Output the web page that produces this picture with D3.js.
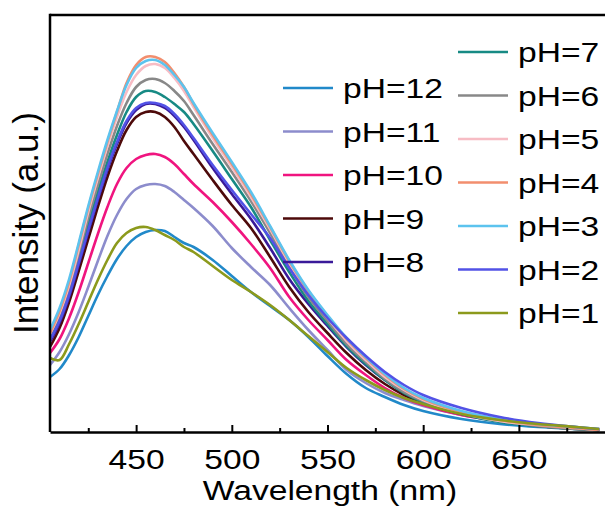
<!DOCTYPE html>
<html>
<head>
<meta charset="utf-8">
<script src="https://cdn.jsdelivr.net/npm/d3@7"></script>
<style>
  body { margin: 0; background: #fff; }
  svg { display: block; }
  text { font-family: "Liberation Sans", Arial, sans-serif; fill: #000; }
</style>
</head>
<body>
<svg width="605" height="509"></svg>
<script>
// emission spectra, wavelength in nm, intensity in a.u.
const wavelength = [405, 410, 415, 420, 425, 430, 435, 440, 445, 450, 455, 460, 465, 470, 475, 480, 490, 500, 510, 520, 530, 540, 550, 560, 570, 580, 590, 600, 620, 640, 660, 680, 692];

const ph12 = [55, 63, 77, 95, 116, 137, 156, 173, 186, 195, 200, 202, 201, 195, 189, 185, 172, 156, 140, 126, 112, 95, 76, 58, 44, 35, 27, 21, 13, 8, 5, 3, 2];
const ph11 = [67, 80, 98, 120, 145, 171, 196, 217, 233, 243, 247, 248, 246, 240, 232, 224, 206, 184, 165, 147, 124, 102, 82, 62, 49, 39, 32, 26, 17, 11, 7, 4, 2];
const ph10 = [79, 93, 114, 140, 169, 198, 225, 248, 264, 273, 277, 278, 275, 268, 258, 248, 230, 210, 188, 164, 135, 112, 92, 72, 57, 44, 34, 27, 17, 11, 7, 4, 2];
const ph9  = [85, 104, 130, 161, 193, 225, 255, 281, 302, 315, 320, 320, 315, 305, 291, 278, 252, 227, 204, 175, 145, 120, 99, 79, 62, 48, 37, 29, 18, 11, 6, 3, 2];
const ph8  = [90, 109, 135, 167, 200, 232, 262, 288, 309, 322, 328, 328, 324, 316, 305, 292, 264, 238, 213, 184, 153, 128, 106, 85, 67, 52, 40, 31, 20, 12, 7, 4, 2];
const ph7  = [96, 115, 141, 174, 208, 240, 270, 297, 320, 335, 341, 340, 335, 328, 320, 308, 281, 253, 225, 192, 160, 131, 108, 86, 68, 52, 39, 30, 18, 10, 6, 3, 2];
const ph6  = [97, 117, 144, 178, 214, 247, 278, 306, 329, 345, 352, 353, 349, 341, 331, 317, 288, 260, 231, 199, 165, 135, 111, 88, 70, 53, 40, 31, 19, 11, 6, 3, 2];
const ph5  = [98, 119, 147, 182, 220, 254, 286, 315, 340, 357, 366, 368, 364, 354, 341, 325, 294, 265, 235, 203, 169, 139, 114, 91, 72, 55, 42, 32, 19, 11, 7, 4, 2];
const ph4  = [99, 121, 150, 187, 224, 258, 290, 320, 349, 367, 375, 375, 370, 359, 345, 328, 297, 268, 238, 205, 171, 141, 116, 93, 74, 57, 43, 33, 20, 12, 7, 4, 2];
const ph3  = [102, 124, 153, 189, 226, 260, 292, 321, 347, 364, 371, 372, 367, 357, 345, 329, 299, 270, 240, 206, 172, 142, 117, 94, 75, 58, 44, 34, 21, 13, 8, 5, 3];
const ph2  = [92, 111, 137, 169, 202, 234, 264, 290, 311, 324, 329, 329, 326, 318, 307, 294, 267, 242, 218, 194, 164, 137, 114, 94, 76, 60, 47, 37, 24, 15, 9, 5, 3];
const ph1  = [74, 72, 88, 108, 130, 152, 172, 189, 199, 204, 205, 202, 197, 192, 185, 180, 166, 152, 140, 127, 112, 96, 80, 64, 52, 42, 34, 28, 18, 12, 8, 5, 3];

const labels = ["pH=12", "pH=11", "pH=10", "pH=9", "pH=8", "pH=7", "pH=6", "pH=5", "pH=4", "pH=3", "pH=2", "pH=1"];
const values = [ph12, ph11, ph10, ph9, ph8, ph7, ph6, ph5, ph4, ph3, ph2, ph1];
const majorTicks = [450, 500, 550, 600, 650];
const minorTicks = [425, 475, 525, 575, 625, 675];

const colors = ["#2189c9", "#8c8ccc", "#f0147f", "#4d0a0a", "#3a1a99", "#178a84",
                "#888888", "#f7bcc4", "#f28e6e", "#5cc3ee", "#5252e6", "#8c9a1c"];

const svg = d3.select("svg");
const mLeft = 50, mRight = 605, mTop = 15, mBottom = 432;

const x = d3.scaleLinear().domain([405, 695]).range([mLeft, mRight]);
const y = d3.scaleLinear().domain([0, 417]).range([mBottom, mTop]);

const series = labels.map((lab, i) => ({
  label: lab,
  color: colors[i],
  points: wavelength.map((w, j) => [w, values[i][j]])
}));

const line = d3.line()
  .x(d => x(d[0]))
  .y(d => y(d[1]))
  .curve(d3.curveCatmullRom.alpha(0.5));

// spectra
svg.append("g")
  .selectAll("path")
  .data(series)
  .enter()
  .append("path")
  .attr("d", d => line(d.points))
  .attr("fill", "none")
  .attr("stroke", d => d.color)
  .attr("stroke-width", 2.6)
  .attr("stroke-linejoin", "round");

// frame: left and top
svg.append("line").attr("x1", mLeft).attr("x2", mLeft).attr("y1", mTop - 1.2).attr("y2", mBottom)
  .attr("stroke", "#000").attr("stroke-width", 2.5);
svg.append("line").attr("x1", mLeft).attr("x2", mRight).attr("y1", mTop).attr("y2", mTop)
  .attr("stroke", "#000").attr("stroke-width", 2.5);

// minor ticks
svg.append("g")
  .attr("transform", `translate(0,${mBottom})`)
  .call(d3.axisBottom(x).tickValues(minorTicks).tickSize(-4).tickFormat(""))
  .call(g => g.select(".domain").remove())
  .call(g => g.selectAll("line").attr("stroke-width", 2));

// bottom axis
const xAxis = svg.append("g")
  .attr("transform", `translate(0,${mBottom})`)
  .call(d3.axisBottom(x).tickValues(majorTicks).tickSizeInner(-7).tickSizeOuter(0));
xAxis.select(".domain").attr("stroke-width", 2.5);
xAxis.selectAll(".tick line").attr("stroke-width", 2);
xAxis.selectAll(".tick text")
  .attr("y", 37).attr("dy", 0)
  .attr("font-size", 28)
  .attr("transform", "scale(1.2,1)")
  .style("font-family", "'Liberation Sans', Arial, sans-serif");

// axis titles
svg.append("text")
  .attr("transform", "translate(330,500) scale(1.2,1)")
  .attr("text-anchor", "middle")
  .attr("font-size", 28)
  .text("Wavelength (nm)");

svg.append("text")
  .attr("transform", "translate(38,223) rotate(-90)")
  .attr("text-anchor", "middle")
  .attr("font-size", 35)
  .text("Intensity (a.u.)");

// legend, two columns
const legendPos = [
  [283, 88], [283, 131.5], [283, 175], [283, 218.5], [283, 262],
  [458, 52], [458, 95.5], [458, 139], [458, 182.5], [458, 226], [458, 269.5], [458, 313]
];
const items = svg.append("g")
  .selectAll("g")
  .data(series)
  .enter()
  .append("g")
  .attr("transform", (d, i) => `translate(${legendPos[i][0]},${legendPos[i][1]})`);

items.append("line")
  .attr("x1", 0).attr("x2", 50)
  .attr("stroke", d => d.color)
  .attr("stroke-width", 2.6);
items.append("text")
  .attr("transform", "translate(60,10) scale(1.2,1)")
  .attr("font-size", 28)
  .text(d => d.label);
</script>
</body>
</html>
